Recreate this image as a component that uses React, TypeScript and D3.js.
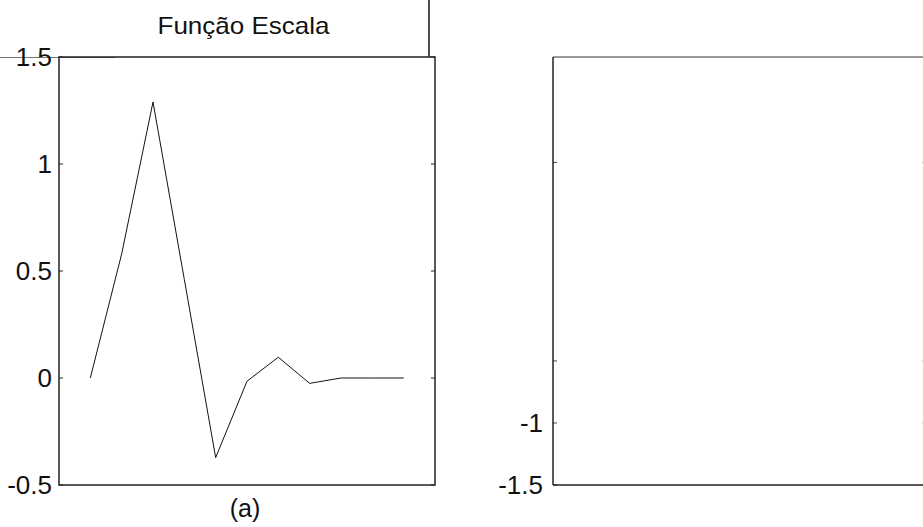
import React from "react";
import * as d3 from "d3";

const xValues = [0, 1, 2, 3, 4, 5, 6, 7, 8, 9, 10];
const yValues = [0, 0.58, 1.29, 0.46, -0.372, -0.015, 0.097, -0.025, 0, 0, 0];
const leftTicks = [-0.5, 0, 0.5, 1, 1.5];
const leftTickLabels = ["-0.5", "0", "0.5", "1", "1.5"];
const rightTicks = [-1.5, -1, -0.5, 1.1];
const rightTickLabels = ["-1.5", "-1", "", ""];
const titleText = "Função Escala";
const captionText = "(a)";

const W = 923;
const H = 527;
const FONT = "'Liberation Sans', Arial, Helvetica, sans-serif";

export default function App() {
  const L = { x0: 59, x1: 435, y0: 57, y1: 485 };
  const R = { x0: 553, x1: 926, y0: 57, y1: 485 };

  const x = d3.scaleLinear().domain([-1, 11]).range([L.x0, L.x1]);
  const yL = d3.scaleLinear().domain([-0.5, 1.5]).range([L.y1, L.y0]);
  const yR = d3.scaleLinear().domain([-1.5, 1.95]).range([R.y1, R.y0]);

  const line = d3
    .line<number>()
    .x((_, i) => x(xValues[i]))
    .y((d) => yL(d));

  const tl = 4;

  return (
    <div style={{ position: "absolute", left: 0, top: 0 }}>
      <svg width={W} height={H} style={{ display: "block", background: "#fff" }}>
        {/* artifacts */}
        <line x1={0} x2={115} y1={57.5} y2={57.5} stroke="#777" strokeWidth={1} />
        <line x1={429} x2={429} y1={0} y2={57} stroke="#111" strokeWidth={1.5} />

        {/* Left panel */}
        <text
          x={243.5}
          y={33.5}
          fontFamily={FONT}
          fontSize={24}
          textAnchor="middle"
          fill="#111"
          textLength={172}
          lengthAdjust="spacingAndGlyphs"
        >
          {titleText}
        </text>
        {leftTicks.map((t, i) => (
          <g key={"lt" + i}>
            <line x1={L.x0} x2={L.x0 + tl} y1={yL(t)} y2={yL(t)} stroke="#222" strokeWidth={1} />
            <line x1={L.x1 - tl} x2={L.x1} y1={yL(t)} y2={yL(t)} stroke="#222" strokeWidth={1} />
            <text
              x={52}
              y={yL(t)}
              dy="0.36em"
              textAnchor="end"
              fontFamily={FONT}
              fontSize={26}
              fill="#111"
            >
              {leftTickLabels[i]}
            </text>
          </g>
        ))}
        <rect
          x={L.x0}
          y={L.y0}
          width={L.x1 - L.x0}
          height={L.y1 - L.y0}
          fill="none"
          stroke="#222"
          strokeWidth={1.5}
        />
        <path d={line(yValues) || ""} fill="none" stroke="#111" strokeWidth={1} />
        <text x={245} y={517} fontFamily={FONT} fontSize={25} textAnchor="middle" fill="#111">
          {captionText}
        </text>

        {/* Right panel */}
        {rightTicks.map((t, i) => (
          <g key={"rt" + i}>
            <line x1={R.x0} x2={R.x0 + tl} y1={yR(t)} y2={yR(t)} stroke="#444" strokeWidth={1} />
            <line x1={R.x1 - tl} x2={R.x1} y1={yR(t)} y2={yR(t)} stroke="#bbb" strokeWidth={1} />
            {rightTickLabels[i] && (
              <text
                x={543}
                y={yR(t)}
                dy="0.36em"
                textAnchor="end"
                fontFamily={FONT}
                fontSize={26}
                fill="#111"
              >
                {rightTickLabels[i]}
              </text>
            )}
          </g>
        ))}
        <line x1={R.x0} x2={R.x1} y1={R.y0} y2={R.y0} stroke="#777" strokeWidth={1.5} />
        <line x1={R.x0} x2={R.x1} y1={R.y1} y2={R.y1} stroke="#222" strokeWidth={1.5} />
        <line x1={R.x0} x2={R.x0} y1={R.y0} y2={R.y1} stroke="#222" strokeWidth={1.5} />
      </svg>
    </div>
  );
}
